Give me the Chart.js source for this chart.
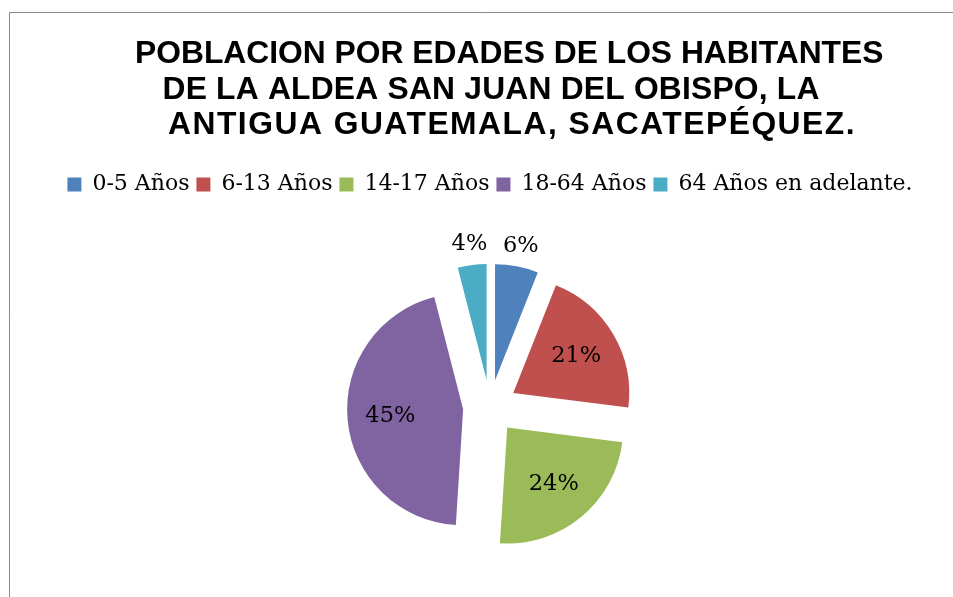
<!DOCTYPE html>
<html>
<head>
<meta charset="utf-8">
<script src="https://cdn.jsdelivr.net/npm/chart.js@4.4.0/dist/chart.umd.min.js"></script>
<style>
html, body { margin: 0; padding: 0; background: #fff; overflow: hidden; width: 953px; height: 597px; }
#wrap { width: 953px; height: 620px; position: relative; }
</style>
</head>
<body>
<div id="wrap"><canvas id="pie"></canvas></div>
<script>
const titleLines = ['POBLACION POR EDADES DE LOS HABITANTES', 'DE LA ALDEA SAN JUAN DEL OBISPO, LA', 'ANTIGUA GUATEMALA, SACATEPÉQUEZ.'];
const categories = ['0-5 Años', '6-13 Años', '14-17 Años', '18-64 Años', '64 Años en adelante.'];
const percents = [6, 21, 24, 45, 4];
const colors = ['#4F81BD', '#C0504D', '#9BBB59', '#8064A2', '#4BACC6'];

const explode = 27; // how far every slice is pulled out

// frame + title (lines are not centred the same way in the original)
const frameTitle = {
	id: 'frameTitle',
	beforeDraw(chart) {
		const c = chart.ctx;
		c.save();
		c.strokeStyle = '#888888';
		c.lineWidth = 1;
		c.beginPath();
		c.moveTo(9.5, 640);
		c.lineTo(9.5, 12.5);
		c.lineTo(960, 12.5);
		c.stroke();
		c.restore();
	},
	afterDraw(chart) {
		const c = chart.ctx;
		const xs = [135, 162.5, 168];
		const ys = [63, 98.5, 134];
		const spacing = [0, 0.2, 1.5];
		c.save();
		c.font = 'bold 31.8px "Liberation Sans", Arial, sans-serif';
		c.fillStyle = '#000';
		c.textAlign = 'left';
		c.textBaseline = 'alphabetic';
		titleLines.forEach((t, i) => {
			c.letterSpacing = spacing[i] + 'px';
			c.fillText(t, xs[i], ys[i]);
		});
		c.restore();
	}
};

// pull every arc out by the same distance (chart.js' own offset also grows small arcs)
const explodeArcs = {
	id: 'explodeArcs',
	beforeDatasetDraw(chart, args) {
		const c = chart.ctx;
		args.meta.data.forEach(arc => {
			const mid = (arc.startAngle + arc.endAngle) / 2;
			c.save();
			c.translate(Math.cos(mid) * explode, Math.sin(mid) * explode);
			arc.draw(c, chart.chartArea);
			c.restore();
		});
		return false;
	}
};

// percentage labels
const sliceLabels = {
	id: 'sliceLabels',
	afterDatasetsDraw(chart) {
		const c = chart.ctx;
		const arcs = chart.getDatasetMeta(0).data;
		c.save();
		c.font = '22.5px "DejaVu Serif", serif';
		c.fillStyle = '#000';
		c.textAlign = 'center';
		c.textBaseline = 'middle';
		arcs.forEach((arc, i) => {
			const mid = (arc.startAngle + arc.endAngle) / 2;
			const r = percents[i] < 10 ? explode + arc.outerRadius + 21 : explode + arc.outerRadius * 0.63;
			c.fillText(percents[i] + '%', arc.x + Math.cos(mid) * r, arc.y + Math.sin(mid) * r);
		});
		c.restore();
	}
};

new Chart(document.getElementById('pie'), {
	type: 'pie',
	data: {
		labels: categories,
		datasets: [{
			data: percents,
			backgroundColor: colors,
			borderWidth: 0,
			radius: 116
		}]
	},
	options: {
		responsive: true,
		maintainAspectRatio: false,
		animation: false,
		events: [],
		layout: {
			padding: {top: 166.6, left: 27, right: 0, bottom: 12}
		},
		plugins: {
			title: {display: false},
			tooltip: {enabled: false},
			legend: {
				position: 'top',
				labels: {
					boxWidth: 14,
					boxHeight: 14,
					padding: 7,
					color: '#000',
					font: {family: '"DejaVu Serif", serif', size: 22}
				}
			}
		}
	},
	plugins: [frameTitle, explodeArcs, sliceLabels]
});
</script>
</body>
</html>
